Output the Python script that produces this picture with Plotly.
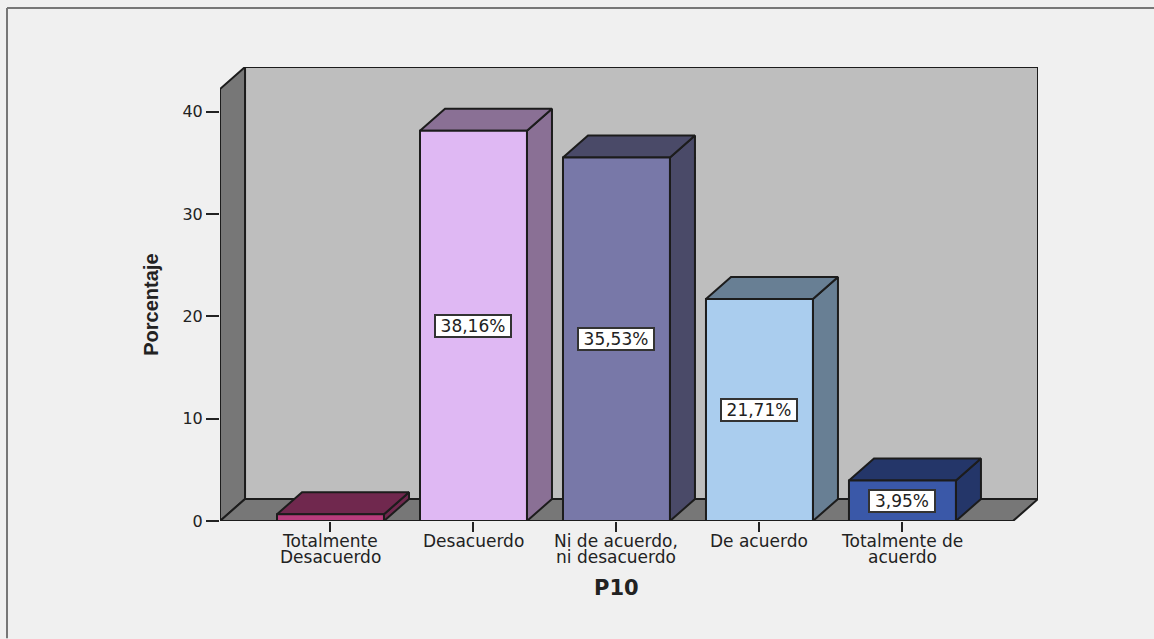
import plotly.graph_objects as go

# Survey question P10: percentage of answers per response option
CATEGORIES = ["Totalmente<br>Desacuerdo", "Desacuerdo", "Ni de acuerdo,<br>ni desacuerdo",
              "De acuerdo", "Totalmente de<br>acuerdo"]
VALUES = [0.66, 38.16, 35.53, 21.71, 3.95]
LABELS = [None, "38,16%", "35,53%", "21,71%", "3,95%"]
Y_TICKS = [0, 10, 20, 30, 40]

FRONT = ["#b83c7c", "#dfb8f3", "#7878a8", "#aacdee", "#3a58a8"]
SHADE = ["#70284e", "#8a7095", "#4a4a68", "#687f94", "#243669"]

WALL = "#bebebe"
FLOOR = "#777777"
EDGE = "#1c1c1c"
PAPER = "#f0f0f0"
TEXT = "#222222"

# Oblique projection used for the pseudo-3D box: depth offset in axis units
DEPTH_X = 0.175
DEPTH_Y = 2.15
BAR_HALF = 0.374
X_MIN, X_MAX = -0.7727, 4.948
Y_MAX = 44.38
WALL_TOP = Y_MAX - DEPTH_Y
FRONT_RIGHT = X_MAX - DEPTH_X

fig = go.Figure()


def face(xs, ys, color, width=2):
    # one filled polygon of the box or of a bar
    fig.add_trace(go.Scatter(
        x=xs + xs[:1], y=ys + ys[:1], mode="lines", fill="toself", fillcolor=color,
        line=dict(color=EDGE, width=width), hoverinfo="skip", showlegend=False,
        cliponaxis=False,
    ))


# Back wall, left wall and floor
face([X_MIN + DEPTH_X, X_MAX, X_MAX, X_MIN + DEPTH_X], [DEPTH_Y, DEPTH_Y, Y_MAX, Y_MAX], WALL)
face([X_MIN, X_MIN + DEPTH_X, X_MIN + DEPTH_X, X_MIN], [0, DEPTH_Y, Y_MAX, WALL_TOP], FLOOR)
face([X_MIN, FRONT_RIGHT, X_MAX, X_MIN + DEPTH_X], [0, 0, DEPTH_Y, DEPTH_Y], FLOOR)

# Bars: side and top in the shaded tone, front face in the full tone
for i, (v, front, shade) in enumerate(zip(VALUES, FRONT, SHADE)):
    x0, x1 = i - BAR_HALF, i + BAR_HALF
    face([x1, x1 + DEPTH_X, x1 + DEPTH_X, x1], [0, DEPTH_Y, v + DEPTH_Y, v], shade)
    face([x0, x1, x1 + DEPTH_X, x0 + DEPTH_X], [v, v, v + DEPTH_Y, v + DEPTH_Y], shade)
    face([x0, x1, x1, x0], [0, 0, v, v], front)

annotations = []

# Value boxes centred on the front faces
for i, (v, label) in enumerate(zip(VALUES, LABELS)):
    if label is None:
        continue
    annotations.append(dict(
        x=i, y=v / 2, xref="x", yref="y", text=label, showarrow=False,
        font=dict(family="DejaVu Sans", size=17, color=TEXT),
        width=74 if len(label) > 5 else 64, height=20, align="center",
        bgcolor="white", bordercolor="#333333", borderwidth=2, borderpad=0,
    ))

# Category names, one annotation per line for the tight leading
for i, name in enumerate(CATEGORIES):
    for row, line in enumerate(name.split("<br>")):
        annotations.append(dict(
            x=i, y=0, xref="x", yref="y", text=line, showarrow=False,
            xanchor="center", yanchor="top", yshift=-8 - 15.5 * row,
            font=dict(family="DejaVu Sans", size=17, color=TEXT),
        ))

annotations.append(dict(
    x=(616 - 220) / 818, y=(521.5 - 589) / 454.5, xref="paper", yref="paper",
    xanchor="center", yanchor="middle",
    text="<b>P10</b>", showarrow=False,
    font=dict(family="DejaVu Sans", size=21, color=TEXT),
))
annotations.append(dict(
    x=(151 - 220) / 818, y=(521.5 - 305) / 454.5, xref="paper", yref="paper",
    xanchor="center", yanchor="middle",
    text="<b>Porcentaje</b>", textangle=-90, showarrow=False,
    font=dict(family="Liberation Sans", size=20, color=TEXT),
))

# Frame of the chart area: top and left rules
shapes = [
    dict(type="line", xref="paper", yref="paper", x0=(7 - 220) / 818, x1=(1154 - 220) / 818,
         y0=(521.5 - 8) / 454.5, y1=(521.5 - 8) / 454.5, line=dict(color="#777777", width=2)),
    dict(type="line", xref="paper", yref="paper", x0=(7 - 220) / 818, x1=(7 - 220) / 818,
         y0=(521.5 - 8) / 454.5, y1=(521.5 - 639) / 454.5, line=dict(color="#777777", width=2)),
]

fig.update_layout(
    width=1154, height=639, autosize=False,
    margin=dict(l=220, r=116, t=67, b=117.5),
    paper_bgcolor=PAPER, plot_bgcolor=PAPER,
    showlegend=False,
    annotations=annotations, shapes=shapes,
    xaxis=dict(
        range=[X_MIN, X_MAX], tickvals=list(range(len(CATEGORIES))), showticklabels=False,
        ticks="outside", ticklen=10, tickwidth=2, tickcolor=TEXT,
        showgrid=False, zeroline=False, showline=False,
    ),
    yaxis=dict(
        range=[0, Y_MAX], tickvals=Y_TICKS, ticks="outside", ticklen=13, tickwidth=2,
        tickcolor=TEXT, tickfont=dict(family="DejaVu Sans", size=16, color=TEXT),
        showgrid=False, zeroline=False, showline=False,
    ),
)

fig.write_html("out.html", config=dict(displayModeBar=False))
